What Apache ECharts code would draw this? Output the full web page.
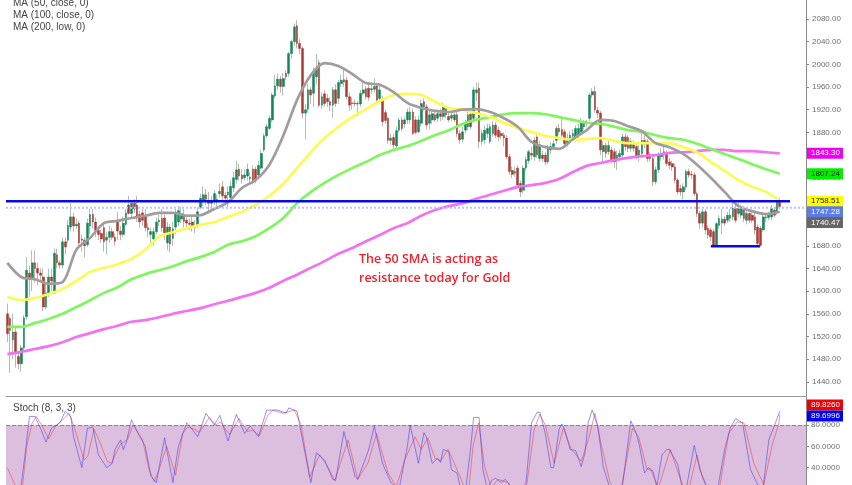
<!DOCTYPE html>
<html>
<head>
<meta charset="utf-8">
<style>
  html, body { margin: 0; padding: 0; background: #fff; }
  #chart { width: 852px; height: 485px; }
</style>
<script src="https://cdn.jsdelivr.net/npm/echarts@6/dist/echarts.min.js"></script>
</head>
<body>
<div id="chart"></div>
<script>
// candles
const opens = [
  1560,1552,1514,1528,1485,1472,1500,1555,1632,1623,1650,1640,1632,1625,1572,1597,1625,1598,1664,1650,
  1646,1687,1690,1713,1731,1715,1720,1692,1690,1682,1715,1735,1722,1707,1702,1712,1690,1695,1705,1695,
  1722,1706,1700,1718,1752,1737,1755,1752,1735,1738,1731,1712,1700,1692,1705,1722,1728,1729,1685,1713,
  1693,1713,1722,1727,1733,1725,1720,1722,1712,1715,1748,1760,1770,1758,1755,1759,1758,1772,1784,1769,
  1770,1765,1782,1797,1815,1805,1800,1803,1798,1815,1815,1805,1817,
  1849,1874,1887,1902,1944,1962,1974,1961,1984,1984,2019,2040,2068,2037,2028,1914,1921,1955,1949,1978,
  2003,1928,1948,1940,1934,1928,1955,1940,1966,1973,1972,1943,1932,1932,1931,1930,1949,1957,1958,1955,
  1956,1962,1940,1938,1915,1905,1866,1871,1856,1884,
  1902,1895,1902,1902,1916,1902,1881,1896,1934,1925,1896,1902,1911,1905,1913,1908,1922,1908,1905,1902,
  1911,1878,1868,1884,1890,1912,1905,1950,1958,1864,1867,1878,1864,1878,1893,1884,1878,1875,1870,1837,
  1813,1808,1817,1790,1778,1817,1830,1843,1837,1872,1834,1840,1840,1828,1849,1855,1866,1887,1885,1881,
  1860,
  1870,1873,1872,1875,1881,1890,1898,1905,1946,1952,1919,1914,1846,1857,1846,1849,1846,1832,1837,1840,
  1872,1871,1852,1858,1855,1840,1843,1866,1864,1840,1834,1793,1814,1837,1840,1843,1828,1825,1819,1796,
  1781,1775,1784,1811,1806,1805,1772,1737,1720,1740,1711,1708,1705,1681,1716,1720,1727,1725,1728,1731,
  1746,1737,1734,1743,1725,1737,1734,1731,1713,1711,1708,1729,1730,1731,1743,1740,1758
];
const closes = [
  1525,1531,1528,1491,1472,1500,1553,1637,1622,1650,1640,1632,1628,1572,1597,1625,1618,1667,1650,1646,
  1687,1678,1716,1731,1715,1718,1685,1690,1680,1720,1735,1722,1707,1700,1692,1687,1695,1705,1695,1688,
  1706,1700,1720,1738,1737,1755,1745,1730,1722,1725,1712,1708,1705,1705,1722,1725,1712,1703,1713,1683,
  1710,1738,1742,1737,1723,1720,1718,1712,1716,1740,1764,1770,1762,1755,1759,1772,1762,1776,1768,1764,
  1775,1785,1800,1814,1803,1798,1805,1815,1801,1795,1795,1822,1843,
  1874,1890,1905,1946,1962,1974,1961,1975,1978,2019,2040,2066,2037,2028,1914,1920,1955,1946,1988,1993,
  1928,1943,1931,1934,1928,1955,1931,1968,1972,1969,1943,1928,1931,1930,1930,1949,1955,1943,1942,1957,
  1961,1937,1955,1899,1901,1866,1870,1858,1883,1902,
  1887,1902,1916,1916,1878,1880,1902,1931,1925,1893,1911,1913,1902,1913,1908,1925,1911,1902,1910,1911,
  1878,1867,1881,1896,1911,1890,1955,1955,1864,1878,1884,1887,1890,1893,1875,1872,1874,1870,1837,1811,
  1806,1811,1787,1775,1817,1832,1846,1840,1866,1840,1858,1834,1828,1852,1855,1860,1887,1881,1875,1860,
  1870,
  1875,1878,1887,1887,1899,1899,1896,1946,1952,1920,1914,1849,1857,1843,1857,1831,1828,1840,1843,1872,
  1855,1852,1864,1852,1837,1849,1866,1860,1834,1834,1793,1814,1840,1843,1846,1825,1822,1819,1796,1775,
  1775,1784,1811,1805,1805,1772,1737,1720,1740,1708,1699,1696,1681,1719,1728,1727,1720,1734,1734,1746,
  1725,1746,1746,1728,1737,1725,1725,1708,1684,1681,1731,1731,1734,1746,1734,1758,1749
];
const highs = [
  1578,1556,1560,1535,1495,1505,1558,1660,1645,1672,1672,1650,1640,1640,1615,1640,1640,1675,1675,1655,
  1695,1695,1725,1755,1738,1728,1725,1700,1695,1728,1745,1745,1730,1715,1708,1718,1705,1715,1712,1702,
  1740,1715,1732,1745,1768,1760,1762,1768,1742,1745,1745,1720,1712,1712,1730,1735,1745,1735,1722,1718,
  1722,1745,1750,1748,1745,1735,1728,1735,1725,1748,1772,1785,1780,1775,1768,1778,1770,1790,1795,1775,
  1785,1795,1810,1830,1825,1815,1815,1825,1810,1822,1820,1830,1850,
  1878,1895,1910,1950,1982,1984,1980,1985,1990,2022,2044,2072,2078,2045,2032,1930,1965,1960,1995,2019,
  2008,1950,1955,1948,1942,1960,1965,1972,1982,1994,1978,1950,1942,1938,1935,1955,1968,1962,1965,1968,
  1975,1966,1962,1945,1920,1908,1878,1878,1890,1906,
  1908,1908,1922,1925,1922,1908,1910,1938,1940,1930,1918,1920,1918,1920,1922,1932,1928,1915,1918,1918,
  1920,1884,1890,1902,1916,1920,1960,1968,1968,1885,1892,1895,1895,1900,1898,1890,1882,1880,1875,1842,
  1820,1820,1822,1795,1822,1838,1850,1855,1872,1875,1865,1848,1845,1858,1862,1866,1892,1895,1908,1886,
  1878,
  1882,1885,1892,1895,1905,1902,1902,1950,1958,1962,1925,1918,1865,1862,1865,1855,1852,1848,1850,1878,
  1878,1875,1870,1866,1860,1858,1885,1875,1868,1845,1838,1820,1845,1852,1858,1848,1835,1830,1825,1800,
  1788,1790,1815,1816,1812,1810,1776,1742,1745,1745,1716,1712,1710,1722,1734,1745,1732,1740,1745,1760,
  1752,1755,1752,1750,1742,1745,1740,1738,1718,1715,1738,1738,1740,1752,1748,1762,1764
];
const lows = [
  1510,1456,1480,1465,1462,1458,1495,1550,1590,1600,1615,1610,1620,1565,1568,1590,1600,1595,1640,1640,
  1640,1665,1685,1705,1705,1710,1680,1670,1660,1678,1700,1710,1695,1690,1685,1670,1665,1685,1690,1680,
  1690,1690,1695,1715,1735,1730,1738,1722,1712,1715,1705,1695,1685,1680,1700,1715,1705,1690,1672,1668,
  1680,1700,1715,1720,1712,1710,1708,1705,1702,1712,1745,1750,1752,1740,1748,1752,1750,1765,1760,1752,
  1745,1760,1775,1790,1795,1790,1795,1795,1790,1788,1790,1800,1815,
  1845,1870,1884,1898,1940,1955,1950,1945,1972,1978,2010,2032,2028,2018,1905,1868,1915,1930,1925,1965,
  1924,1922,1925,1925,1918,1905,1925,1930,1960,1960,1938,1918,1920,1925,1909,1925,1945,1938,1936,1948,
  1950,1930,1935,1890,1895,1860,1858,1850,1850,1880,
  1882,1888,1895,1895,1875,1876,1878,1890,1918,1885,1885,1895,1898,1898,1900,1902,1905,1898,1900,1898,
  1872,1860,1862,1878,1884,1885,1898,1935,1852,1858,1860,1870,1860,1872,1870,1865,1868,1855,1832,1805,
  1800,1802,1782,1766,1772,1812,1825,1832,1830,1835,1828,1828,1822,1824,1842,1852,1860,1875,1870,1855,
  1855,
  1862,1868,1865,1870,1875,1885,1890,1900,1940,1915,1905,1840,1825,1835,1840,1825,1818,1814,1830,1835,
  1848,1845,1846,1846,1832,1828,1835,1852,1828,1828,1785,1788,1808,1830,1832,1820,1815,1812,1790,1770,
  1768,1762,1778,1800,1798,1768,1730,1710,1712,1700,1692,1688,1678,1680,1710,1700,1715,1720,1722,1725,
  1720,1730,1728,1722,1718,1720,1720,1700,1678,1678,1705,1722,1725,1725,1730,1735,1745
];

// moving averages, one reading every 5 candles
const maStep = 5;
const maGray = [
  1650,1625,1621,1613,1616,1673,1694,1720,1724,1729,1733,1738,1738,1733,1734,1745,1757,1782,1796,1823,
  1874,1937,1981,2002,1997,1983,1967,1964,1951,1932,1923,1918,1916,1920,1921,1916,1905,1890,1863,1854,
  1851,1868,1884,1902,1900,1891,1882,1861,1854,1842,1823,1800,1775,1750,1741,1736,1740
];
const maYellow = [
  1590,1584,1588,1595,1604,1618,1634,1641,1648,1657,1673,1696,1704,1711,1717,1722,1731,1740,1752,1768,
  1789,1817,1845,1870,1890,1907,1921,1935,1946,1948,1946,1934,1923,1920,1914,1907,1897,1888,1881,1874,
  1870,1867,1868,1870,1865,1861,1861,1861,1861,1854,1845,1828,1812,1796,1784,1775,1759
];
const maGreen = [
  1537,1537,1544,1551,1560,1572,1584,1597,1607,1621,1630,1637,1644,1653,1660,1669,1682,1688,1697,1711,
  1729,1755,1775,1791,1805,1817,1828,1840,1849,1856,1865,1875,1884,1895,1902,1907,1912,1914,1914,1912,
  1907,1902,1897,1895,1890,1884,1881,1875,1870,1867,1860,1851,1842,1833,1824,1815,1807
];
const maMagenta = [
  1489,1493,1498,1503,1510,1519,1526,1533,1539,1546,1549,1554,1560,1565,1570,1577,1583,1590,1597,1606,
  1618,1629,1641,1653,1666,1676,1688,1699,1711,1720,1733,1743,1750,1755,1763,1770,1777,1784,1787,1791,
  1798,1810,1821,1826,1831,1835,1838,1840,1844,1845,1847,1849,1849,1847,1847,1845,1843
];

// stochastic: candle position of each reading, then the reading
const kPos = [
  0,3,5,6.5,8,10,12,14,16,19,21,23,24,27,29,31,33,36,38,39,41,42,43,45,47,50,52,54,57,60,62,65,67,69,72,75,77,80,83,86,
  88,91,94,98,101,102,105,107,110,112,115,118,119,122,126,127,131,133,136,139,142,145,146,149,151,152,154,156,157,158,
  160,161,163,164,166,168,169,171,172.4,174,175.5,177,179,180.5,182,185,188,190,192,193,195,197,198,200,201,202,204,206,208,209.4,
  210.5,212,214,216,218,220,223,226,228,229,231,232.4,234,235.4,237.3,239,240,243,245,246,249,251,254,257,260,262,264,266.5,269.4,272,
  274,276,278,280
];
const kValues = [
  15,10,24,54,88,88,77,64,77,82,93,88,69,40,77,78,52,40,44,57,66,57,63,85,74,60,32,26,68,26,60,82,76,69,91,80,89,65,90,72,
  79,69,94,94,91,96,93,66,26,54,47,29,28,74,32,29,57,79,44,26,20,60,80,44,73,68,44,49,45,57,
  55,38,35,24,16,60,87,87,38,19,28,30,26,29,24,13,26,82,92,92,72,40,40,76,81,76,57,56,41,54,
  82,94,79,41,24,13,24,84,72,62,35,40,37,22,52,57,57,43,16,19,61,38,19,13,57,77,86,82,38,24,
  22,66,79,93
];
const dPos = [
  0,5,7,9,10.5,12.6,15,17.5,20.5,22.3,24,27.8,29.2,31.4,33.2,36.2,37.7,41,43.5,45.6,49,51.4,53.2,55,57.7,61,63.5,65.3,67.8,69.6,
  73.2,75.6,77.2,80.5,84,87,89,91.4,94.4,96.2,99.9,104,106.5,109.6,113.2,115.6,118.7,123.5,127,130.8,133.8,138,141,144,147.8,150,152.4,155,157,159.7,
  161.5,164.5,167,168.8,170.8,173,175.4,177.9,181.5,184.5,188,191,193,195,198.2,201.5,204.5,208,210.6,213,215.4,218.5,222,226.6,228.8,231.8,233.4,236,240.3,244,
  246.4,250,251.8,254.8,258,261.5,264.5,267,270.6,274.2,277.3,279.7,280
];
const dValues = [
  40,10,60,82,88,79,67,79,86,91,80,47,51,76,66,46,44,62,66,80,66,38,27,38,60,33,72,78,76,73,
  87,80,83,71,86,74,75,70,89,94,91,94,80,31,52,43,28,66,29,45,72,35,22,47,69,57,68,49,46,57,
  47,29,13,60,82,41,21,29,26,16,19,76,90,80,44,77,57,46,66,91,60,26,13,77,69,39,37,21,57,29,
  13,52,32,13,19,72,83,82,44,24,62,82,90
];

const priceTicks = [2080,2040,2000,1960,1920,1880,1840,1800,1760,1720,1680,1640,1600,1560,1520,1480,1440];
const stochTicks = [80,60,40];

const resistance = 1758.5;
const resistanceFrom = -0.5;
const resistanceTo = 283.7;
const support = 1679;
const supportFrom = 255;
const supportTo = 272.8;
const lastClose = 1747.28;

const priceTagText = ['1843.30','1807.24','1758.51','1747.28','1740.47'];
const priceTagValue = [1843.3,1807.24,1758.51,1747.28,1740.47];
const priceTagShift = [0,0,0,4,11];
const priceTagFill = ['#f000f0','#00f000','#ffff00','#5b7be8','#666666'];
const priceTagInk = ['#fff','#111','#222','#fff','#fff'];
const stochTagText = ['89.8260','89.6996'];
const stochTagY = [405,416];
const stochTagFill = ['#f00000','#0000f0'];

const legendLines = ['MA (50, close, 0)','MA (100, close, 0)','MA (200, low, 0)'];

const slots = 290;
const category = Array.from({ length: slots }, (_, i) => i);
const wicks = opens.map((o, i) => [o, closes[i], lows[i], highs[i]]);
const bodies = opens.map((o, i) => [o, closes[i], Math.min(o, closes[i]), Math.max(o, closes[i])]);

function maLine(values, color) {
  return {
    type: 'line',
    xAxisIndex: 1,
    yAxisIndex: 0,
    data: values.map((v, i) => [i * maStep, v]),
    smooth: 0.3,
    symbol: 'none',
    silent: true,
    z: 5,
    lineStyle: { color, width: 2.7 },
  };
}

function flatLine(x0, x1, y, color, width, type) {
  return {
    type: 'line',
    xAxisIndex: 1,
    yAxisIndex: 0,
    data: [[x0, y], [x1, y]],
    symbol: 'none',
    silent: true,
    z: 6,
    lineStyle: { color, width, type },
  };
}

function stochLine(pos, values, color) {
  return {
    type: 'line',
    xAxisIndex: 2,
    yAxisIndex: 1,
    data: values.map((v, i) => [pos[i], v]),
    symbol: 'none',
    silent: true,
    z: 5,
    lineStyle: { color, width: 1, opacity: 0.55 },
  };
}

const chart = echarts.init(document.getElementById('chart'));
chart.setOption({
  animation: false,
  backgroundColor: '#fff',
  textStyle: { fontFamily: 'Liberation Sans, Arial, sans-serif' },
  grid: [
    { left: 6, right: 46, top: 0, height: 396 },
    { left: 6, right: 46, top: 397, bottom: 0 },
  ],
  xAxis: [
    {
      type: 'category',
      gridIndex: 0,
      data: category,
      axisLine: { show: true, onZero: false, lineStyle: { color: '#999', width: 1 } },
      axisTick: { show: false },
      axisLabel: { show: false },
      splitLine: { show: false },
    },
    { type: 'value', gridIndex: 0, min: -0.5, max: slots - 0.5, show: false },
    { type: 'value', gridIndex: 1, min: -0.5, max: slots - 0.5, show: false },
  ],
  yAxis: [
    {
      type: 'value',
      gridIndex: 0,
      position: 'right',
      min: 1415.1,
      max: 2113.5,
      // the hidden value x axis has a zero, keep this line on the right edge
      axisLine: { show: true, onZero: false, lineStyle: { color: '#888' } },
      axisTick: { show: true, length: 3, lineStyle: { color: '#888' }, customValues: priceTicks },
      axisLabel: {
        color: '#6e6e6e',
        fontSize: 8,
        margin: 6,
        customValues: priceTicks,
        formatter: (v) => v.toFixed(2),
      },
      splitLine: { show: false },
    },
    {
      type: 'value',
      gridIndex: 1,
      position: 'right',
      min: 23.7,
      max: 106.3,
      axisLine: { show: true, onZero: false, lineStyle: { color: '#888' } },
      axisTick: { show: true, length: 3, lineStyle: { color: '#888' }, customValues: stochTicks },
      axisLabel: {
        color: '#6e6e6e',
        fontSize: 8,
        margin: 5,
        customValues: stochTicks,
        formatter: (v) => v.toFixed(4),
      },
      splitLine: { show: false },
    },
  ],
  series: [
    {
      type: 'candlestick',
      data: wicks,
      barWidth: 1,
      z: 2,
      silent: true,
      itemStyle: { color: '#a9c4b4', color0: '#c6b2af', borderColor: '#a9c4b4', borderColor0: '#c6b2af', borderWidth: 1 },
    },
    {
      type: 'candlestick',
      data: bodies,
      barWidth: 2.2,
      z: 3,
      silent: true,
      itemStyle: { color: '#12875a', color0: '#a93a34', borderColor: '#12875a', borderColor0: '#a93a34', borderWidth: 0.5 },
    },
    maLine(maMagenta, '#f272f2'),
    maLine(maGreen, '#7ff65e'),
    maLine(maYellow, '#fbfb55'),
    maLine(maGray, '#a39c9c'),
    flatLine(-0.5, slots - 0.5, lastClose, '#b3c6f5', 2, 'dotted'),
    flatLine(resistanceFrom, resistanceTo, resistance, '#0808e4', 2.5),
    flatLine(supportFrom, supportTo, support, '#0808e4', 2.5),
    {
      type: 'line',
      xAxisIndex: 2,
      yAxisIndex: 1,
      data: [],
      silent: true,
      markArea: {
        silent: true,
        itemStyle: { color: '#dcbfde' },
        data: [[{ xAxis: -0.5, yAxis: 80 }, { xAxis: slots - 0.5, yAxis: 20 }]],
      },
      markLine: {
        silent: true,
        symbol: 'none',
        label: { show: false },
        lineStyle: { color: '#888', type: 'dashed', width: 1 },
        data: [{ yAxis: 80 }],
      },
    },
    stochLine(dPos, dValues, '#f0403c'),
    stochLine(kPos, kValues, '#3c3cf0'),
  ],
});

// labels and tags sit on top of the plot
function tag(text, yCenter, fill, ink) {
  return {
    type: 'group',
    children: [
      { type: 'rect', z: 100, shape: { x: 807, y: yCenter - 5.5, width: 36, height: 11 }, style: { fill } },
      {
        type: 'text',
        z: 101,
        style: { x: 811, y: yCenter, text, fill: ink, font: '8px "Liberation Sans"', textVerticalAlign: 'middle' },
      },
    ],
  };
}

const graphic = [];
legendLines.forEach((text, i) => {
  graphic.push({
    type: 'text',
    z: 20,
    style: { x: 13, y: 3 + i * 12, text, fill: '#444', font: '10px "Liberation Sans"', textVerticalAlign: 'middle' },
  });
});
graphic.push({
  type: 'text',
  z: 20,
  style: { x: 13, y: 408, text: 'Stoch (8, 3, 3)', fill: '#444', font: '10px "Liberation Sans"', textVerticalAlign: 'middle' },
});
graphic.push({
  type: 'text',
  z: 20,
  style: { x: 359, y: 259, text: 'The 50 SMA is acting as', fill: '#f2202c', font: '600 12.5px "Open Sans"', textVerticalAlign: 'middle' },
});
graphic.push({
  type: 'text',
  z: 20,
  style: { x: 359, y: 278, text: 'resistance today for Gold', fill: '#f2202c', font: '600 12.5px "Open Sans"', textVerticalAlign: 'middle' },
});
priceTagText.forEach((text, i) => {
  const y = chart.convertToPixel({ yAxisIndex: 0 }, priceTagValue[i]) + priceTagShift[i];
  graphic.push(tag(text, y, priceTagFill[i], priceTagInk[i]));
});
stochTagText.forEach((text, i) => {
  graphic.push(tag(text, stochTagY[i], stochTagFill[i], '#fff'));
});
chart.setOption({ graphic });
</script>
</body>
</html>
